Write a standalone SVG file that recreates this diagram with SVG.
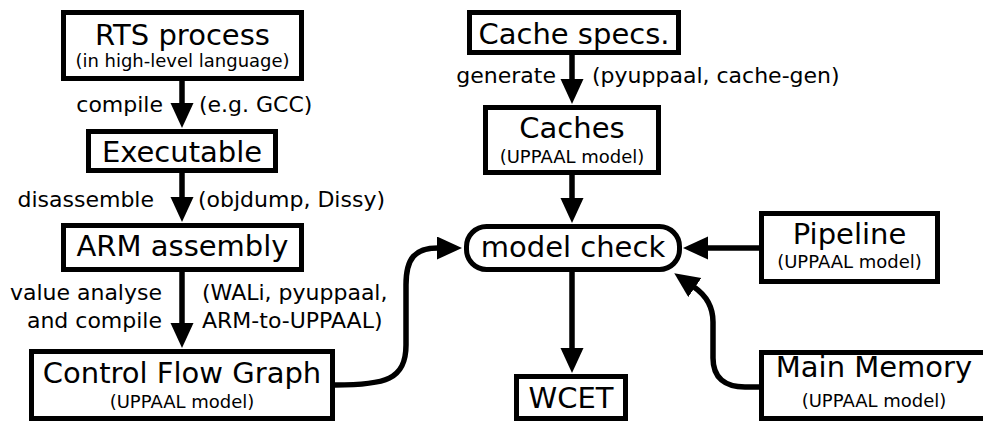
<svg xmlns="http://www.w3.org/2000/svg" width="983" height="422" viewBox="0 0 983 422">
<defs>
<style>
.box{fill:#fff;stroke:#000;stroke-width:5}
.big{font-family:"DejaVu Sans",sans-serif;font-size:29px;text-anchor:middle;fill:#000}
.sm{font-family:"DejaVu Sans",sans-serif;font-size:18px;text-anchor:middle;fill:#000}
.lbl{font-family:"DejaVu Sans",sans-serif;font-size:22px;fill:#000}
.r{text-anchor:end}
.conn{fill:none;stroke:#000;stroke-width:5.5}
</style>
<marker id="ah" markerUnits="userSpaceOnUse" markerWidth="26" markerHeight="24" refX="1" refY="11.5" orient="auto" viewBox="0 0 26 24">
<path d="M0,0 L25,11.5 L0,23 z" fill="#000"/>
</marker>
</defs>
<g id="connectors">
<path class="conn" d="M182,81 L182,104" marker-end="url(#ah)"/>
<path class="conn" d="M182,173 L182,198" marker-end="url(#ah)"/>
<path class="conn" d="M182,272 L182,324" marker-end="url(#ah)"/>
<path class="conn" d="M572,55 L572,80" marker-end="url(#ah)"/>
<path class="conn" d="M572,175 L572,199" marker-end="url(#ah)"/>
<path class="conn" d="M572,272 L572,349" marker-end="url(#ah)"/>
<path class="conn" d="M759,248 L707,248" marker-end="url(#ah)"/>
<path class="conn" d="M335,385 C385,385 406,380 406,345 L406,285 C406,258 415,248 438,248" marker-end="url(#ah)"/>
<path class="conn" d="M759,387 L745,387 C725,387 713,378 713,358 L713,322 C713,308 707,296 694,287" marker-end="url(#ah)"/>
<text class="lbl r" x="163" y="112">compile</text>
<text class="lbl" x="199" y="112">(e.g. GCC)</text>
<text class="lbl r" x="154" y="207">disassemble</text>
<text class="lbl" x="198" y="207">(objdump, Dissy)</text>
<text class="lbl r" x="162" y="300">value analyse</text>
<text class="lbl r" x="162" y="328">and compile</text>
<text class="lbl" x="202" y="300">(WALi, pyuppaal,</text>
<text class="lbl" x="202" y="328">ARM-to-UPPAAL)</text>
<text class="lbl r" x="556" y="83">generate</text>
<text class="lbl" x="592" y="83">(pyuppaal, cache-gen)</text>
</g>
<g id="rts">
<rect class="box" x="63.5" y="12.5" width="238" height="66"/>
<text class="big" x="182.5" y="45">RTS process</text>
<text class="sm" x="182.5" y="67">(in high-level language)</text>
</g>
<g id="executable">
<rect class="box" x="88.5" y="131.5" width="187" height="39"/>
<text class="big" x="182" y="162">Executable</text>
</g>
<g id="arm">
<rect class="box" x="63.5" y="225.5" width="238" height="44"/>
<text class="big" x="182.5" y="256">ARM assembly</text>
</g>
<g id="cfg">
<rect class="box" x="31.5" y="351.5" width="301" height="67"/>
<text class="big" x="182" y="383">Control Flow Graph</text>
<text class="sm" x="182" y="408">(UPPAAL model)</text>
</g>
<g id="cachespecs">
<rect class="box" x="469.5" y="12.5" width="209" height="40"/>
<text class="big" x="574" y="44">Cache specs.</text>
</g>
<g id="caches">
<rect class="box" x="485.5" y="107.5" width="173" height="65"/>
<text class="big" x="572" y="138">Caches</text>
<text class="sm" x="572" y="163">(UPPAAL model)</text>
</g>
<g id="modelcheck">
<rect class="box" x="466.5" y="226.5" width="213" height="43" rx="20" ry="20"/>
<text class="big" x="573" y="257">model check</text>
</g>
<g id="wcet">
<rect class="box" x="516.5" y="376.5" width="109" height="42"/>
<text class="big" x="571" y="408">WCET</text>
</g>
<g id="pipeline">
<rect class="box" x="761.5" y="213.5" width="176" height="68"/>
<text class="big" x="849.5" y="244">Pipeline</text>
<text class="sm" x="849.5" y="268">(UPPAAL model)</text>
</g>
<g id="mainmemory">
<rect class="box" x="761.5" y="352.5" width="226" height="66"/>
<text class="big" x="874" y="377">Main Memory</text>
<text class="sm" x="874" y="407">(UPPAAL model)</text>
</g>
</svg>
